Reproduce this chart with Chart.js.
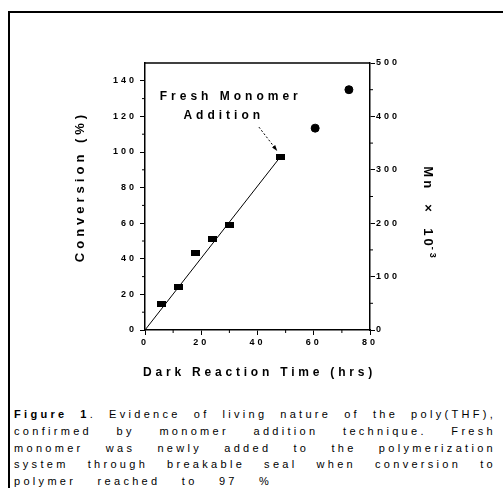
<!DOCTYPE html>
<html>
<head>
<meta charset="utf-8">
<script src="https://cdn.jsdelivr.net/npm/chart.js@4/dist/chart.umd.min.js"></script>
<style>
  body { margin: 0; background: #fff; width: 503px; height: 488px; overflow: hidden; position: relative; font-family: "Liberation Sans", Arial, sans-serif; }
  #frame { position: absolute; left: 8px; top: 11px; width: 520px; height: 500px; border-left: 2px solid #000; border-top: 2px solid #000; }
  #wrap { position: absolute; left: 0; top: 0; width: 503px; height: 385px; }
  #caption { position: absolute; left: 14px; top: 406px; width: 482px; font-size: 11px; letter-spacing: 3.3px; line-height: 16.75px; color: #000; }
  #caption div { text-align: justify; text-align-last: justify; white-space: nowrap; }
  #caption div.last { text-align-last: left; word-spacing: 15px; }
</style>
</head>
<body>
<div id="frame"></div>
<div id="wrap"><canvas id="chart"></canvas></div>
<div id="caption">
  <div><b>Figure 1</b>. Evidence of living nature of the poly(THF),</div>
  <div>confirmed by monomer addition technique. Fresh</div>
  <div>monomer was newly added to the polymerization</div>
  <div>system through breakable seal when conversion to</div>
  <div class="last">polymer reached to 97 %</div>
</div>
<script>
// conversion data (left axis)
const convTime = [6, 12, 18, 24, 30, 48];
const convValue = [14.5, 24, 43, 51, 59, 97];
// fitted line through origin
const fitTime = [0, 48];
const fitValue = [0, 97];
// Mn data (right axis)
const mnTime = [60.5, 72.5];
const mnValue = [378, 450];

const xTicks = [0, 20, 40, 60, 80];
const convTicks = [0, 20, 40, 60, 80, 100, 120, 140];
const mnTicks = [0, 100, 200, 300, 400, 500];

const FONT = '"Liberation Sans", Arial, sans-serif';

// flat rectangle marker like the original
const rectMark = document.createElement('canvas');
rectMark.width = 9; rectMark.height = 6;
const rc = rectMark.getContext('2d');
rc.fillStyle = '#000';
rc.fillRect(0, 0, 9, 6);

const spacingPlugin = {
  id: 'spacing',
  beforeDraw(chart) { chart.ctx.letterSpacing = '3px'; },
  beforeUpdate(chart) { chart.ctx.letterSpacing = '3px'; }
};

const extrasPlugin = {
  id: 'extras',
  afterDraw(chart) {
    const ctx = chart.ctx;
    const x = chart.scales.x, y = chart.scales.y, y2 = chart.scales.y2;
    const a = chart.chartArea;
    ctx.save();
    ctx.strokeStyle = '#000';
    ctx.lineWidth = 1.5;
    ctx.beginPath();
    ctx.moveTo(a.left, a.top); ctx.lineTo(a.right, a.top);
    ctx.stroke();
    // minor ticks
    ctx.lineWidth = 1;
    ctx.beginPath();
    for (let v = 10; v < 150; v += 20) {
      const py = y.getPixelForValue(v);
      ctx.moveTo(a.left - 3, py); ctx.lineTo(a.left, py);
    }
    for (let v = 50; v < 500; v += 100) {
      const py = y2.getPixelForValue(v);
      ctx.moveTo(a.right, py); ctx.lineTo(a.right + 3, py);
    }
    for (let v = 10; v < 80; v += 20) {
      const px = x.getPixelForValue(v);
      ctx.moveTo(px, a.bottom); ctx.lineTo(px, a.bottom + 3);
    }
    ctx.stroke();

    ctx.fillStyle = '#000';
    ctx.textAlign = 'center';
    ctx.textBaseline = 'middle';

    // axis titles
    ctx.letterSpacing = '3.8px';
    ctx.font = 'bold 12px ' + FONT;
    ctx.fillText('Dark Reaction Time (hrs)', (a.left + a.right) / 2 + 2, a.bottom + 43);

    ctx.save();
    ctx.letterSpacing = '4px';
    ctx.font = 'bold 13px ' + FONT;
    ctx.translate(a.left - 65, (a.top + a.bottom) / 2 - 10);
    ctx.rotate(-Math.PI / 2);
    ctx.fillText('Conversion (%)', 0, 0);
    ctx.restore();

    ctx.save();
    ctx.letterSpacing = '3px';
    ctx.translate(a.right + 58, (a.top + a.bottom) / 2 + 18);
    ctx.rotate(Math.PI / 2);
    ctx.font = 'bold 13px ' + FONT;
    const main = 'Mn  ×  10';
    ctx.font = 'bold 9px ' + FONT;
    const supW = ctx.measureText('-3').width;
    ctx.font = 'bold 13px ' + FONT;
    const mainW = ctx.measureText(main).width;
    const start = -(mainW + supW) / 2;
    ctx.textAlign = 'left';
    ctx.fillText(main, start, 0);
    ctx.font = 'bold 9px ' + FONT;
    ctx.fillText('-3', start + mainW - 2, -4);
    ctx.restore();

    // annotation
    ctx.letterSpacing = '4px';
    ctx.font = 'bold 12px ' + FONT;
    ctx.textAlign = 'center';
    ctx.fillText('Fresh Monomer', x.getPixelForValue(30.5), y.getPixelForValue(131));
    ctx.fillText('Addition', x.getPixelForValue(28), y.getPixelForValue(120.5));
    // dotted arrow
    const x0 = x.getPixelForValue(40.5), y0 = y.getPixelForValue(114);
    const x1 = x.getPixelForValue(46.6), y1 = y.getPixelForValue(101.5);
    ctx.setLineDash([2, 2]);
    ctx.beginPath(); ctx.moveTo(x0, y0); ctx.lineTo(x1, y1); ctx.stroke();
    ctx.setLineDash([]);
    const ang = Math.atan2(y1 - y0, x1 - x0);
    ctx.beginPath();
    ctx.moveTo(x1 + 2 * Math.cos(ang), y1 + 2 * Math.sin(ang));
    ctx.lineTo(x1 - 4 * Math.cos(ang) + 2 * Math.sin(ang), y1 - 4 * Math.sin(ang) - 2 * Math.cos(ang));
    ctx.lineTo(x1 - 4 * Math.cos(ang) - 2 * Math.sin(ang), y1 - 4 * Math.sin(ang) + 2 * Math.cos(ang));
    ctx.closePath(); ctx.fill();
    ctx.restore();
  }
};

const tickFont = { family: FONT, size: 9, weight: 'bold' };

new Chart(document.getElementById('chart'), {
  type: 'scatter',
  data: {
    datasets: [
      {
        type: 'line',
        data: fitTime.map((t, i) => ({ x: t, y: fitValue[i] })),
        borderColor: '#000', borderWidth: 1, pointRadius: 0, yAxisID: 'y'
      },
      {
        data: convTime.map((t, i) => ({ x: t, y: convValue[i] })),
        pointStyle: rectMark, backgroundColor: '#000', yAxisID: 'y'
      },
      {
        data: mnTime.map((t, i) => ({ x: t, y: mnValue[i] })),
        pointStyle: 'circle', pointRadius: 4, backgroundColor: '#000', borderColor: '#000', yAxisID: 'y2'
      }
    ]
  },
  options: {
    responsive: true,
    maintainAspectRatio: false,
    animation: false,
    events: [],
    layout: { padding: { top: 63, left: 0, right: 0, bottom: 0 } },
    plugins: { legend: { display: false }, tooltip: { enabled: false } },
    scales: {
      x: {
        type: 'linear', min: 0, max: 80,
        afterBuildTicks: s => { s.ticks = xTicks.map(v => ({ value: v })); },
        afterFit: s => { s.height = 55; },
        ticks: { color: '#000', font: tickFont, padding: 2, maxRotation: 0 },
        grid: { drawOnChartArea: false, tickLength: 5, color: '#000' },
        border: { color: '#000', width: 1.5 }
      },
      y: {
        position: 'left', min: 0, max: 150,
        afterBuildTicks: s => { s.ticks = convTicks.map(v => ({ value: v })); },
        afterFit: s => { s.width = 145; },
        ticks: { color: '#000', font: tickFont, padding: 3 },
        grid: { drawOnChartArea: false, tickLength: 5, color: '#000' },
        border: { color: '#000', width: 1.5 }
      },
      y2: {
        position: 'right', min: 0, max: 500,
        afterBuildTicks: s => { s.ticks = mnTicks.map(v => ({ value: v })); },
        afterFit: s => { s.width = 133; },
        ticks: { color: '#000', font: tickFont, padding: 1 },
        grid: { drawOnChartArea: false, tickLength: 5, color: '#000' },
        border: { color: '#000', width: 1.5 }
      }
    }
  },
  plugins: [spacingPlugin, extrasPlugin]
});
</script>
</body>
</html>
